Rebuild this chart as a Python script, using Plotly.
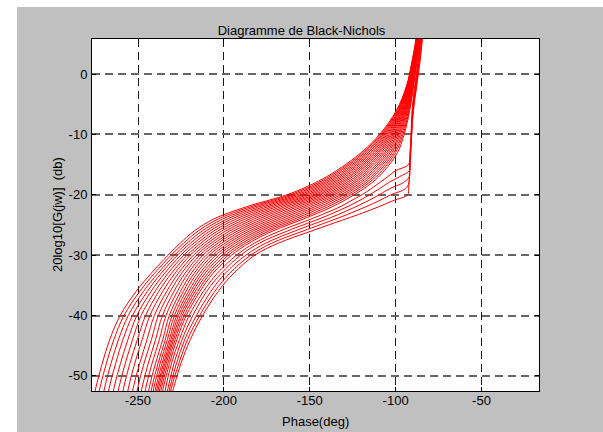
import plotly.graph_objects as go

# ---------------------------------------------------------------------------
# Black-Nichols family: phase (deg) of each response at fixed gain levels (dB)
# ---------------------------------------------------------------------------

# Gain levels for the smooth responses
mag_levels_smooth = [6, 2, -2, -6, -10, -13, -16, -18, -20, -22, -24,
                     -26, -28, -30, -33, -36, -40, -44, -48, -52, -56]

# One row per response: phase at each level of mag_levels_smooth
phase_smooth = [
    [-88.0, -90.5, -93.7, -99.5, -109.3, -120.0, -134.4, -146.7, -163.3, -187.1, -205.8,
     -217.3, -225.4, -232.5, -242.3, -251.1, -260.4, -266.5, -270.9, -274.6, -277.3],
    [-87.9, -90.4, -93.5, -99.1, -108.6, -118.9, -133.0, -145.1, -161.3, -184.6, -203.2,
     -215.0, -223.4, -230.7, -240.4, -249.0, -258.2, -264.1, -268.5, -272.2, -274.9],
    [-87.8, -90.2, -93.3, -98.7, -107.9, -117.9, -131.6, -143.4, -159.4, -182.1, -200.6,
     -212.7, -221.4, -228.8, -238.4, -246.8, -255.7, -261.4, -265.8, -269.5, -272.1],
    [-87.6, -90.1, -93.1, -98.3, -107.2, -116.8, -130.2, -141.8, -157.4, -179.6, -198.0,
     -210.4, -219.4, -227.0, -236.5, -244.6, -253.2, -258.8, -263.1, -266.8, -269.4],
    [-87.5, -89.9, -92.9, -98.0, -106.4, -115.8, -128.8, -140.1, -155.5, -177.1, -195.4,
     -208.1, -217.4, -225.1, -234.5, -242.4, -250.7, -255.9, -260.3, -264.0, -266.6],
    [-87.4, -89.8, -92.7, -97.6, -105.7, -114.7, -127.4, -138.5, -153.5, -174.6, -192.8,
     -205.9, -215.4, -223.3, -232.5, -240.1, -248.2, -253.2, -257.5, -261.2, -263.8],
    [-87.3, -89.6, -92.5, -97.2, -105.0, -113.7, -126.0, -136.8, -151.5, -172.1, -190.1,
     -203.6, -213.4, -221.4, -230.5, -237.9, -245.6, -250.4, -254.8, -258.4, -260.9],
    [-87.1, -89.5, -92.2, -96.8, -104.3, -112.6, -124.6, -135.2, -149.6, -169.6, -187.5,
     -201.3, -211.4, -219.6, -228.5, -235.6, -243.1, -247.6, -252.0, -255.6, -258.1],
    [-87.0, -89.3, -92.0, -96.4, -103.6, -111.6, -123.2, -133.5, -147.6, -167.1, -184.9,
     -199.0, -209.4, -217.7, -226.5, -233.3, -240.5, -244.8, -249.1, -252.8, -255.3],
    [-86.9, -89.2, -91.8, -96.0, -102.9, -110.5, -121.9, -131.9, -145.7, -164.6, -182.3,
     -196.7, -207.4, -215.9, -224.6, -231.2, -238.2, -242.2, -246.6, -250.2, -252.7],
    [-86.8, -89.1, -91.6, -95.6, -102.2, -109.5, -120.5, -130.3, -143.7, -162.1, -179.7,
     -194.4, -205.4, -214.0, -222.6, -229.1, -235.8, -239.8, -244.1, -247.7, -250.2],
    [-86.6, -88.9, -91.4, -95.2, -101.4, -108.4, -119.1, -128.6, -141.7, -159.6, -177.1,
     -192.1, -203.4, -212.2, -220.8, -227.1, -233.7, -237.6, -241.9, -245.5, -247.9],
    [-86.5, -88.8, -91.2, -94.9, -100.7, -107.3, -117.7, -127.0, -139.8, -157.1, -174.5,
     -189.8, -201.3, -210.3, -219.0, -225.2, -231.8, -235.6, -239.9, -243.5, -245.9],
    [-86.4, -88.6, -91.0, -94.5, -100.0, -106.3, -116.3, -125.3, -137.8, -154.6, -171.9,
     -187.5, -199.3, -208.5, -217.3, -223.6, -230.2, -234.1, -238.4, -242.0, -244.4],
    [-86.3, -88.5, -90.8, -94.1, -99.3, -105.2, -114.9, -123.7, -135.9, -152.1, -169.3,
     -185.2, -197.3, -206.6, -215.7, -222.1, -228.8, -232.9, -237.2, -240.8, -243.2],
    [-86.1, -88.3, -90.6, -93.7, -98.6, -104.2, -113.5, -122.0, -133.9, -149.6, -166.7,
     -183.0, -195.3, -204.8, -214.0, -220.6, -227.5, -231.8, -236.1, -239.7, -242.1],
    [-86.0, -88.2, -90.4, -93.3, -97.9, -103.1, -112.1, -120.4, -131.9, -147.1, -164.0,
     -180.7, -193.3, -202.9, -212.5, -219.3, -226.4, -230.9, -235.2, -238.8, -241.1],
    [-85.9, -88.0, -90.2, -92.9, -97.2, -102.1, -110.7, -118.7, -130.0, -144.6, -161.4,
     -178.4, -191.3, -201.1, -211.0, -218.0, -225.3, -230.1, -234.4, -238.0, -240.3],
    [-85.8, -87.9, -90.0, -92.5, -96.4, -101.0, -109.3, -117.1, -128.0, -142.1, -158.8,
     -176.1, -189.3, -199.2, -209.4, -216.7, -224.3, -229.3, -233.6, -237.2, -239.5],
    [-85.6, -87.7, -89.8, -92.1, -95.7, -100.0, -107.9, -115.5, -126.1, -139.6, -156.2,
     -173.8, -187.3, -197.4, -207.9, -215.3, -223.1, -228.4, -232.7, -236.3, -238.6],
    [-85.5, -87.6, -89.55, -91.75, -95.0, -98.9, -106.5, -113.8, -124.1, -137.1, -153.6,
     -171.5, -185.3, -195.5, -206.3, -213.9, -221.9, -227.4, -231.7, -235.3, -237.6],
]

# Gain levels for the responses that turn sharply upward near -92 deg
mag_levels_knee = [6, 2, -2, -6, -10, -13, -15, -16, -17, -18, -19, -20, -21, -22, -23, -24,
                   -26, -28, -30, -33, -36, -40, -44, -48, -52, -56]

phase_knee = [
    [-85.4, -87.0, -88.9, -90.4, -91.0, -91.3, -92.5, -100.0, -104.6, -109.3, -114.3, -119.7, -126.0,
     -132.4, -140.5, -149.1, -167.5, -182.2, -192.6, -203.8, -211.9, -220.2, -225.9, -230.6, -233.9, -236.5],
    [-85.2, -86.7, -88.6, -90.2, -90.9, -91.4, -91.6, -91.9, -97.7, -104.2, -109.4, -115.2, -121.3,
     -128.3, -136.1, -144.6, -163.1, -179.3, -190.2, -201.5, -210.0, -218.1, -224.4, -229.1, -232.5, -235.5],
    [-84.9, -86.4, -88.3, -90.0, -90.8, -91.5, -91.7, -91.8, -92.0, -95.6, -103.6, -109.5, -116.1,
     -123.3, -131.2, -139.8, -158.7, -175.6, -187.2, -199.2, -207.5, -216.0, -222.8, -227.7, -231.5, -234.5],
    [-84.6, -86.1, -88.0, -89.8, -90.7, -91.6, -91.8, -91.9, -92.0, -92.2, -94.3, -102.8, -109.7,
     -117.4, -125.8, -134.8, -153.9, -172.0, -184.4, -196.6, -205.3, -214.1, -221.2, -226.3, -230.6, -233.8],
    [-84.3, -85.8, -87.7, -89.6, -90.6, -91.1, -91.5, -91.7, -91.9, -92.2, -92.4, -93.0, -101.7,
     -110.0, -119.1, -129.0, -149.0, -168.2, -181.9, -194.3, -203.3, -212.4, -219.6, -225.1, -229.3, -233.0],
]

# Axes
x_range = [-276.8, -16.5]
y_range = [-52.5, 5.8]
x_ticks = [-250, -200, -150, -100, -50]
y_ticks = [-50, -40, -30, -20, -10, 0]

# ---------------------------------------------------------------------------
W, H = 603, 432
ML, MR, MT, MB = 92, 64, 39, 41
PW, PH = W - ML - MR, H - MT - MB


def px_x(px):
    return (px - ML) / PW


def px_y(py):
    return (H - MB - py) / PH


FONT = dict(family="Liberation Sans, Arial, sans-serif", size=13, color="#000000")
CURVE = dict(color="#ff0000", width=1, shape="spline", smoothing=1.0)

fig = go.Figure()
for row in phase_smooth:
    fig.add_trace(go.Scatter(x=row, y=mag_levels_smooth, mode="lines", line=CURVE,
                             hoverinfo="skip", showlegend=False))
for row in phase_knee:
    fig.add_trace(go.Scatter(x=row, y=mag_levels_knee, mode="lines", line=CURVE,
                             hoverinfo="skip", showlegend=False))

axis_common = dict(
    showline=True, linecolor="#000000", linewidth=1, mirror="ticks",
    ticks="inside", ticklen=4, tickwidth=1, tickcolor="#000000",
    zeroline=False, showgrid=True, tickfont=FONT,
)

fig.update_xaxes(range=x_range, tickvals=x_ticks, ticktext=[str(v) for v in x_ticks],
                 gridcolor="#1a1a1a", gridwidth=1, griddash="8px,5px",
                 ticklabelstandoff=-3, **axis_common)
fig.update_yaxes(range=y_range, tickvals=y_ticks, ticktext=[str(v) for v in y_ticks],
                 gridcolor="#666666", gridwidth=2, griddash="8px,5px",
                 ticklabelstandoff=1, **axis_common)

fig.update_layout(
    width=W, height=H,
    margin=dict(l=ML, r=MR, t=MT, b=MB, pad=0),
    paper_bgcolor="#c0c0c0",
    plot_bgcolor="#ffffff",
    font=FONT,
    title=dict(text="Diagramme de Black-Nichols", x=0.5, xref="container", xanchor="center",
               y=1 - 30 / H, yref="container", yanchor="middle", font=FONT),
    annotations=[
        dict(text="Phase(deg)", xref="paper", yref="paper", x=0.5, y=px_y(421),
             xanchor="center", yanchor="middle", showarrow=False, font=FONT),
        dict(text="20log10[G(jw)]  (db)", xref="paper", yref="paper", x=px_x(57), y=0.5,
             xanchor="center", yanchor="middle", textangle=-90, showarrow=False, font=FONT),
    ],
    shapes=[
        # white border strips around the grey figure area
        dict(type="rect", xref="paper", yref="paper", layer="below",
             x0=px_x(0), x1=px_x(17), y0=px_y(H), y1=px_y(0),
             fillcolor="#ffffff", line=dict(width=0)),
        dict(type="rect", xref="paper", yref="paper", layer="below",
             x0=px_x(0), x1=px_x(W), y0=px_y(7), y1=px_y(0),
             fillcolor="#ffffff", line=dict(width=0)),
    ],
)

fig.write_html("out.html")
